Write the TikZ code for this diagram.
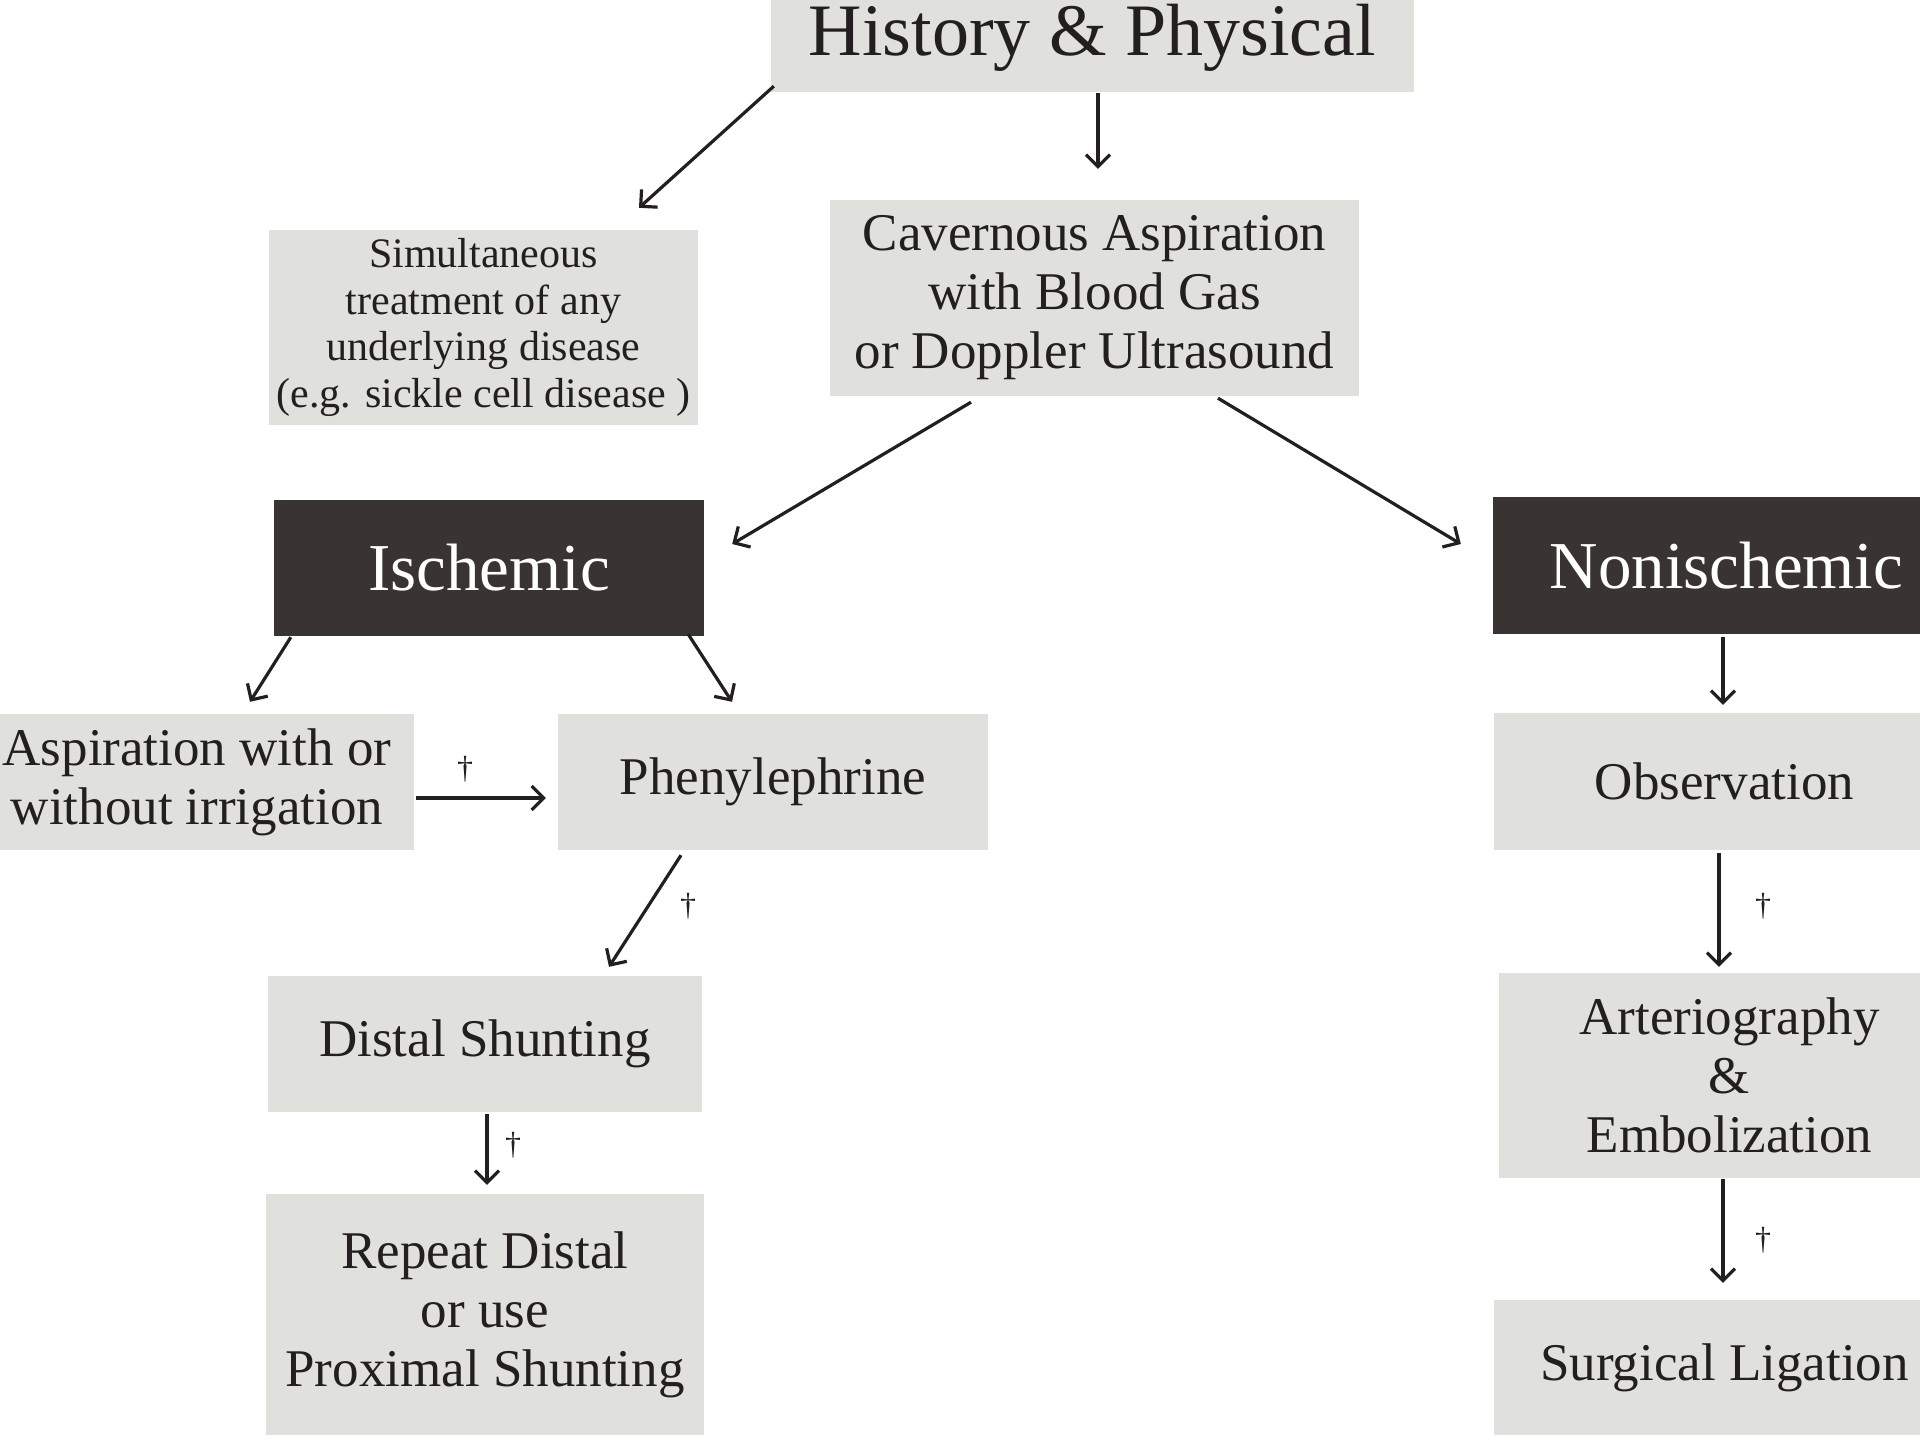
\documentclass[tikz,border=0pt]{standalone}
\usepackage{fontspec}
\setmainfont{Liberation Serif}
\usetikzlibrary{arrows.meta}
\definecolor{boxgray}{HTML}{E0E0DC}
\definecolor{darkbox}{HTML}{393432}
\definecolor{inkc}{HTML}{231F20}
\tikzset{
  gbox/.style={fill=boxgray, inner sep=0pt, align=center, text=inkc},
  dbox/.style={fill=darkbox, inner sep=0pt, align=center, text=white, font=\fontsize{67}{72}\selectfont},
  midf/.style={font=\fontsize{53}{59}\selectfont},
  arr/.style={draw=inkc, line width=3.2pt, -{Straight Barb[length=12pt,width=24pt,line width=3.2pt]}},
  dagg/.style={text=inkc, inner sep=0pt, font=\fontsize{32}{34}\selectfont}
}
\begin{document}
\begin{tikzpicture}[x=1pt,y=-1pt]
\useasboundingbox[fill=white] (0,0) rectangle (1920,1440);

% boxes
\node[gbox, minimum width=643pt, minimum height=108pt, font=\fontsize{74}{80}\selectfont] (hp) at (1092.5,38) {History \& Physical};
\node[gbox, minimum width=429pt, minimum height=195pt, font=\fontsize{42}{46.5}\selectfont] (sim) at (483.5,327.5) {Simultaneous\\treatment of any\\underlying disease\\(e.g. sickle cell disease )};
\node[gbox, midf, minimum width=529pt, minimum height=196pt] (cav) at (1094.5,298) {Cavernous Aspiration\\with Blood Gas\\or Doppler Ultrasound};
\node[dbox, minimum width=430pt, minimum height=136pt] (isch) at (489,568) {Ischemic};
\node[dbox, minimum width=467pt, minimum height=137pt] (non) at (1726.5,565.5) {Nonischemic};
\node[gbox, midf, minimum width=434pt, minimum height=136pt] (asp) at (197,782) {Aspiration with or\\without irrigation};
\node[gbox, midf, minimum width=430pt, minimum height=136pt] (phe) at (773,782) {Phenylephrine};
\node[gbox, midf, minimum width=461pt, minimum height=137pt] (obs) at (1724.5,781.5) {Observation};
\node[gbox, midf, minimum width=434pt, minimum height=136pt] (dist) at (485,1044) {Distal Shunting};
\node[gbox, midf, minimum width=438pt, minimum height=241pt] (rep) at (485,1314.5) {Repeat Distal\\or use\\Proximal Shunting};
\node[gbox, midf, minimum width=461pt, minimum height=205pt] (art) at (1729.5,1075.5) {Arteriography\\\&\\Embolization};
\node[gbox, midf, minimum width=461pt, minimum height=135pt] (surg) at (1724.5,1367.5) {Surgical Ligation};

% connectors
\draw[arr] ([shift={(3,-6)}]hp.south west) -- ([shift={(155.5,-22)}]sim.north);
\draw[arr] ([shift={(5.5,1)}]hp.south) -- ([shift={(3.5,-31)}]cav.north);
\draw[arr] ([shift={(-123.5,6)}]cav.south) -- ([shift={(28,-24)}]isch.east);
\draw[arr] ([shift={(123.5,2)}]cav.south) -- ([shift={(-32,-21.5)}]non.west);
\draw[arr] ([shift={(17,1)}]isch.south west) -- ([shift={(53,-12)}]asp.north);
\draw[arr] ([shift={(-16,-2)}]isch.south east) -- ([shift={(-41,-12)}]phe.north);
\draw[arr, line width=4.2pt] ([shift={(2,16)}]asp.east) -- ([shift={(-12,16)}]phe.west);
\draw[arr] ([shift={(-92,5)}]phe.south) -- ([shift={(124,-9)}]dist.north);
\draw[arr] ([shift={(2,2)}]dist.south) -- ([shift={(2,-9)}]rep.north);
\draw[arr] ([shift={(-3.5,3)}]non.south) -- ([shift={(-1.5,-8)}]obs.north);
\draw[arr] ([shift={(-5.5,3)}]obs.south) -- ([shift={(-10.5,-6)}]art.north);
\draw[arr] ([shift={(-6.5,1)}]art.south) -- ([shift={(-1.5,-17)}]surg.north);

% daggers
\node[dagg] (g1) at (465,769) {†};
\node[dagg] (g2) at (688,906) {†};
\node[dagg] (g3) at (513,1145) {†};
\node[dagg] (g4) at (1763,906) {†};
\node[dagg] (g5) at (1763,1240) {†};
\end{tikzpicture}
\end{document}
